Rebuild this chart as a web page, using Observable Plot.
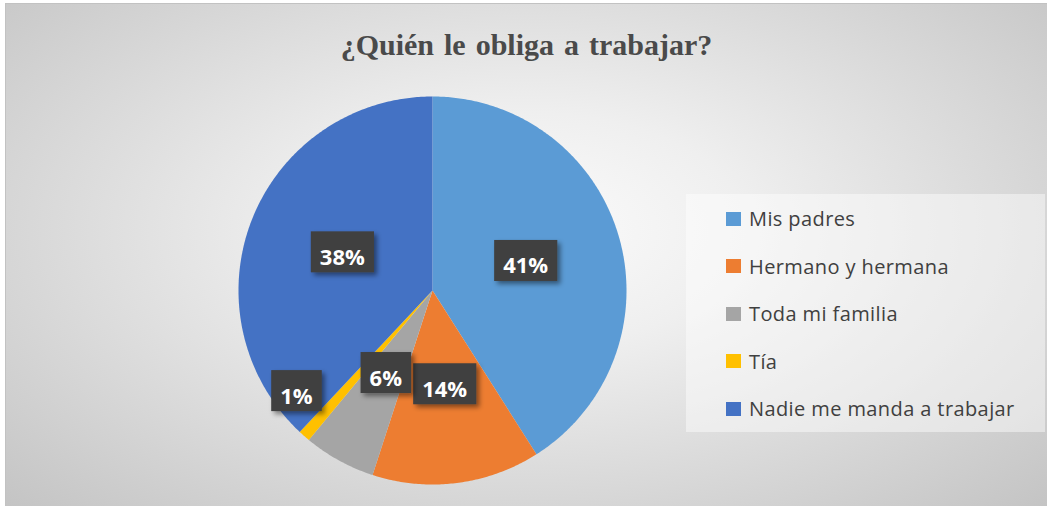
<!DOCTYPE html>
<html><head><meta charset="utf-8">
<script src="https://cdn.jsdelivr.net/npm/d3@7"></script>
<script src="https://cdn.jsdelivr.net/npm/@observablehq/plot@0.6"></script>
<style>
html,body{margin:0;padding:0;background:#fff;}
#chart{position:absolute;left:5px;top:3px;width:1042px;height:503px;box-sizing:border-box;
  border-top:1px solid #c2c2c2;border-left:1px solid #c2c2c2;overflow:hidden;
  background:radial-gradient(ellipse farthest-corner at 50% 45%, #fbfbfb 0%, #efefef 30%, #c4c4c4 100%);}
#title{position:absolute;left:0;top:26px;width:100%;text-align:center;font:bold 30px "Liberation Serif";line-height:30px;color:#4a4a4a;white-space:pre;word-spacing:2.5px;}
#plot{position:absolute;left:0;top:0;}
#legend{position:absolute;left:680px;top:190px;width:359px;height:238px;background:rgba(255,255,255,0.45);}
.item{position:absolute;left:40px;height:26px;display:flex;align-items:center;font:20px "Open Sans";letter-spacing:0.4px;color:#404040;white-space:nowrap;}
.sw{width:15px;height:14px;margin-right:8px;flex:none;}
</style></head>
<body>
<div id="chart">
  <div id="plot"></div>
  <div id="title"></div>
  <div id="legend"></div>
</div>
<script>
const title = "¿Quién le obliga a trabajar?";
const categories = ["Mis padres", "Hermano y hermana", "Toda mi familia", "Tía", "Nadie me manda a trabajar"];
const percents = [41, 14, 6, 1, 38];
const colors = ["#5B9BD5", "#ED7D31", "#A5A5A5", "#FFC000", "#4472C4"];

document.getElementById("title").textContent = title;

const rows = categories.map((c, i) => ({category: c, value: percents[i]}));
const total = d3.sum(rows, d => d.value);
const arcs = d3.pie().sort(null).value(d => d.value)(rows);

const features = arcs.map(a => {
  const ring = [[0, 0]];
  const n = Math.max(2, Math.ceil((a.endAngle - a.startAngle) / 0.01));
  for (let k = 0; k <= n; k++) {
    const t = a.startAngle + (a.endAngle - a.startAngle) * k / n;
    ring.push([Math.sin(t), -Math.cos(t)]);
  }
  ring.push([0, 0]);
  return {type: "Feature", properties: {category: a.data.category}, geometry: {type: "Polygon", coordinates: [ring]}};
});

const labels = arcs.map(a => {
  const share = a.data.value / total;
  const small = share < 0.03;
  const r = small ? 0.88 : 0.5;
  const t = (a.startAngle + a.endAngle) / 2 + (small ? 0.2 : 0);
  return {x: r * Math.sin(t), y: -r * Math.cos(t), label: Math.round(share * 100) + "%"};
});

const domainCircle = {type: "Polygon", coordinates: [d3.range(0, 361, 2).map(d => [Math.sin(d * Math.PI / 180), -Math.cos(d * Math.PI / 180)])]};

const W = 1041, H = 502;
const chart = Plot.plot({
  width: W, height: H,
  marginLeft: 232, marginRight: W - 620, marginTop: 92, marginBottom: H - 480,
  style: {background: "transparent", overflow: "visible"},
  projection: {type: "identity", domain: domainCircle},
  color: {domain: categories, range: colors},
  marks: [
    Plot.geo(features, {fill: d => d.properties.category}),
    Plot.text(labels, {x: "x", y: "y", text: "label", fill: "white", fontSize: 22, fontWeight: "bold", fontFamily: "Open Sans", dy: 3})
  ]
});
document.getElementById("plot").append(chart);

// label boxes behind the percentage texts
const svgNS = "http://www.w3.org/2000/svg";
const defs = document.createElementNS(svgNS, "defs");
defs.innerHTML = '<filter id="sh" x="-30%" y="-30%" width="160%" height="160%"><feDropShadow dx="3" dy="3" stdDeviation="2.5" flood-color="#000" flood-opacity="0.45"/></filter>';
chart.insertBefore(defs, chart.firstChild);
const tg = chart.querySelector('g[aria-label="text"]');
if (tg) {
  for (const t of tg.querySelectorAll("text")) {
    const bb = t.getBBox();
    const w = bb.width + 18, h = 41;
    const cx = bb.x + bb.width / 2, cy = bb.y + bb.height / 2 - 4;
    const rect = document.createElementNS(svgNS, "rect");
    rect.setAttribute("x", cx - w / 2);
    rect.setAttribute("y", cy - h / 2);
    rect.setAttribute("width", w);
    rect.setAttribute("height", h);
    rect.setAttribute("fill", "#404040");
    rect.setAttribute("filter", "url(#sh)");
    const tr = t.getAttribute("transform");
    if (tr) rect.setAttribute("transform", tr);
    tg.insertBefore(rect, t);
  }
}

// legend
const legend = document.getElementById("legend");
categories.forEach((c, i) => {
  const it = document.createElement("div");
  it.className = "item";
  it.style.top = (11.5 + i * 47.6) + "px";
  const sw = document.createElement("div");
  sw.className = "sw";
  sw.style.background = colors[i];
  const tx = document.createElement("span");
  tx.textContent = c;
  it.append(sw, tx);
  legend.append(it);
});
</script>
</body></html>
